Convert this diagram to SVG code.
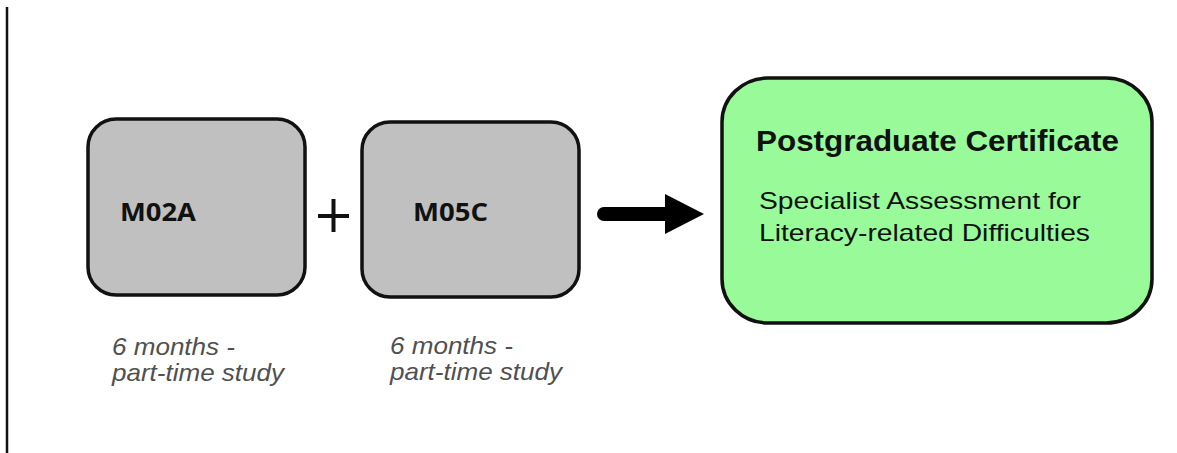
<svg xmlns="http://www.w3.org/2000/svg" width="1177" height="453" viewBox="0 0 1177 453">
  <style>
    .module { fill: #c0c0c0; stroke: #111; stroke-width: 3.5; }
    .result { fill: #98fa98; stroke: #111; stroke-width: 3.5; }
    .code { font-family: "Open Sans", "Liberation Sans", sans-serif; font-weight: bold; font-size: 25px; fill: #111; }
    .title { font-family: "Liberation Sans", Arial, sans-serif; font-weight: bold; font-size: 29px; fill: #111; }
    .sub { font-family: "Liberation Sans", Arial, sans-serif; font-size: 24px; fill: #111; }
    .cap { font-family: "Liberation Sans", Arial, sans-serif; font-style: italic; font-size: 24px; fill: #505050; }
  </style>
  <rect x="0" y="0" width="1177" height="453" fill="#ffffff"/>
  <line x1="7" y1="7" x2="7" y2="453" stroke="#111" stroke-width="2.5"/>

  <g id="node-m02a">
    <rect class="module" x="88" y="119" width="217" height="176" rx="28" ry="28"/>
    <text class="code" x="120" y="221" textLength="76" lengthAdjust="spacingAndGlyphs">M02A</text>
    <text class="cap" x="112" y="355" textLength="123" lengthAdjust="spacingAndGlyphs">6 months -</text>
    <text class="cap" x="112" y="381" textLength="172" lengthAdjust="spacingAndGlyphs">part-time study</text>
  </g>

  <g id="plus">
    <line x1="318" y1="216" x2="349" y2="216" stroke="#111" stroke-width="4"/>
    <line x1="333.5" y1="199" x2="333.5" y2="232" stroke="#111" stroke-width="4"/>
  </g>

  <g id="node-m05c">
    <rect class="module" x="362" y="122" width="217" height="175" rx="28" ry="28"/>
    <text class="code" x="413" y="221" textLength="75" lengthAdjust="spacingAndGlyphs">M05C</text>
    <text class="cap" x="390" y="354" textLength="123" lengthAdjust="spacingAndGlyphs">6 months -</text>
    <text class="cap" x="390" y="380" textLength="172" lengthAdjust="spacingAndGlyphs">part-time study</text>
  </g>

  <g id="connectors">
    <line x1="604" y1="214" x2="668" y2="214" stroke="#000" stroke-width="14" stroke-linecap="round"/>
    <polygon points="665,194 704,214 665,234" fill="#000"/>
  </g>

  <g id="node-pgcert">
    <rect class="result" x="722" y="78" width="430" height="245" rx="46" ry="44"/>
    <text class="title" x="756" y="151" textLength="363" lengthAdjust="spacingAndGlyphs">Postgraduate Certificate</text>
    <text class="sub" x="759" y="209" textLength="322" lengthAdjust="spacingAndGlyphs">Specialist Assessment for</text>
    <text class="sub" x="759" y="241" textLength="331" lengthAdjust="spacingAndGlyphs">Literacy-related Difficulties</text>
  </g>
</svg>
